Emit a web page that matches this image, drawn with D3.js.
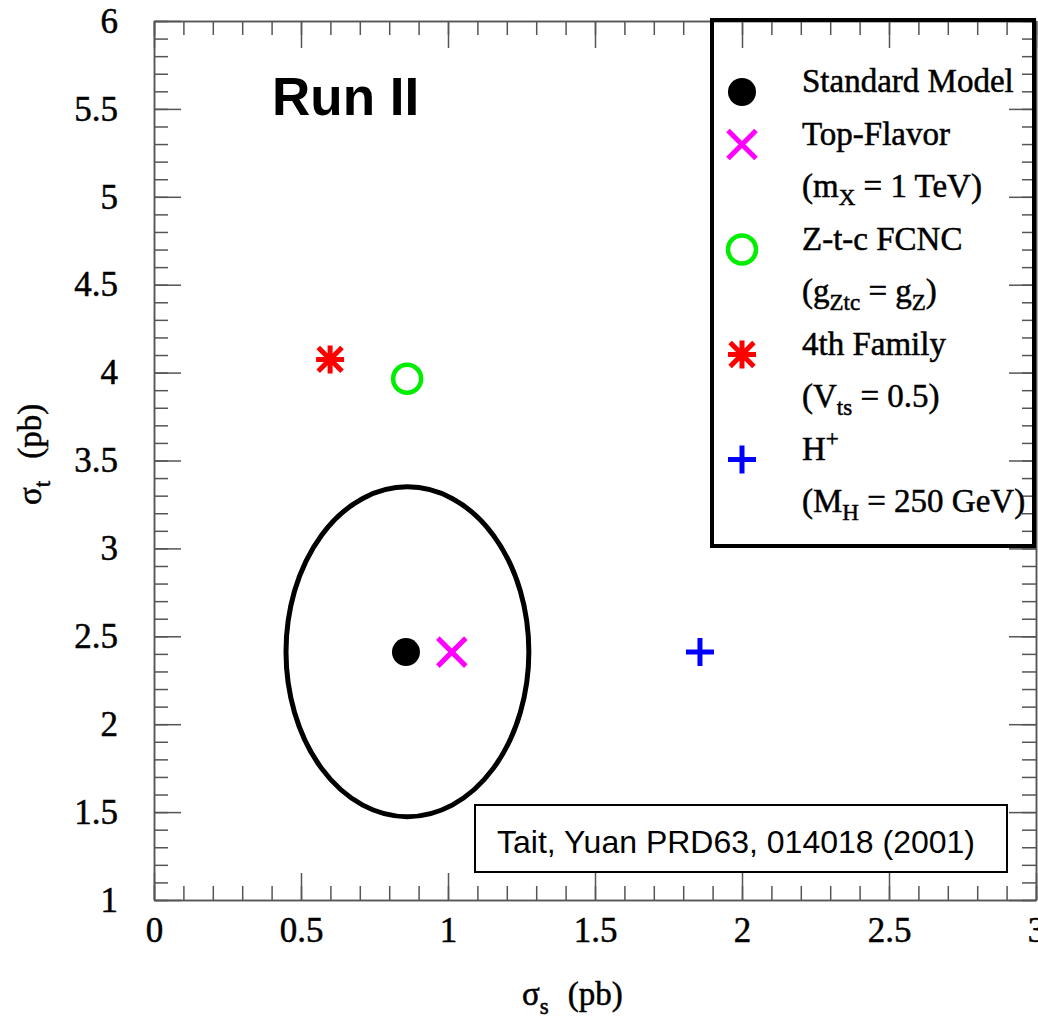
<!DOCTYPE html>
<html>
<head>
<meta charset="utf-8">
<script src="https://cdn.jsdelivr.net/npm/d3@7"></script>
<style>
  body { margin: 0; background: #fff; }
  text { font-family: "Liberation Serif", "Times New Roman", serif; }
</style>
</head>
<body>
<svg id="chart" width="1038" height="1018"></svg>
<script>
// model points (sigma_s, sigma_t) in pb
const models = ["Standard Model", "Top-Flavor", "Z-t-c FCNC", "4th Family", "H+"];
const sigmaS = [0.857, 1.013, 0.861, 0.599, 1.857];
const sigmaT = [2.41, 2.41, 3.965, 4.075, 2.41];
const markerTypes = ["dot", "cross", "ring", "star", "plus"];
const markerColors = ["#000000", "#ff00ff", "#00ee00", "#ff0000", "#0000ff"];

// SM 1-sigma contour: centre and half-widths
const contourCenter = [0.862, 2.412];
const contourRadius = [0.413, 0.938];

const xTicks = [0, 0.5, 1, 1.5, 2, 2.5, 3];
const yTicks = [1, 1.5, 2, 2.5, 3, 3.5, 4, 4.5, 5, 5.5, 6];

// legend lines: [text, "sub"/"sup"/""] parts, and which marker goes with the line
const legendLines = [
  { marker: 0, parts: [["Standard Model", ""]] },
  { marker: 1, parts: [["Top-Flavor", ""]] },
  { marker: -1, parts: [["(m", ""], ["X", "sub"], [" = 1 TeV)", ""]] },
  { marker: 2, parts: [["Z-t-c FCNC", ""]] },
  { marker: -1, parts: [["(g", ""], ["Ztc", "sub"], [" = g", ""], ["Z", "sub"], [")", ""]] },
  { marker: 3, parts: [["4th Family", ""]] },
  { marker: -1, parts: [["(V", ""], ["ts", "sub"], [" = 0.5)", ""]] },
  { marker: 4, parts: [["H", ""], ["+", "sup"]] },
  { marker: -1, parts: [["(M", ""], ["H", "sub"], [" = 250 GeV)", ""]] }
];

const svg = d3.select("#chart");
const margin = { top: 21, right: 2, bottom: 118, left: 154 };
const width = +svg.attr("width") - margin.left - margin.right;
const height = +svg.attr("height") - margin.top - margin.bottom;
const g = svg.append("g").attr("transform", `translate(${margin.left},${margin.top})`);

const x = d3.scaleLinear().domain([0, 3]).range([0, width]);
const y = d3.scaleLinear().domain([1, 6]).range([height, 0]);

const axisColor = "#555";
// slight outline so the serif text reads as heavy as in the scanned original
const textStroke = 0.5;

function styleAxis(sel) {
  sel.attr("font-family", "Liberation Serif").attr("font-size", 35);
  sel.select(".domain").attr("stroke", axisColor).attr("stroke-width", 1.5);
  sel.selectAll(".tick line").attr("stroke", axisColor).attr("stroke-width", 1.5);
  sel.selectAll(".tick text").attr("fill", "#000").attr("stroke", "#000").attr("stroke-width", textStroke);
}

// minor ticks first, then major ticks with labels
const minorX = x.ticks(30), minorY = y.ticks(50);

g.append("g").attr("transform", `translate(0,${height})`)
  .call(d3.axisBottom(x).tickValues(minorX).tickSize(-14).tickSizeOuter(0).tickFormat(""))
  .call(styleAxis);
g.append("g").attr("transform", `translate(0,${height})`)
  .call(d3.axisBottom(x).tickValues(xTicks).tickSize(-27).tickSizeOuter(0).tickPadding(17).tickFormat(d3.format("")))
  .call(styleAxis);

g.append("g")
  .call(d3.axisTop(x).tickValues(minorX).tickSize(-14).tickSizeOuter(0).tickFormat(""))
  .call(styleAxis);
g.append("g")
  .call(d3.axisTop(x).tickValues(xTicks).tickSize(-27).tickSizeOuter(0).tickFormat(""))
  .call(styleAxis);

g.append("g")
  .call(d3.axisLeft(y).tickValues(minorY).tickSize(-14).tickSizeOuter(0).tickFormat(""))
  .call(styleAxis);
g.append("g")
  .call(d3.axisLeft(y).tickValues(yTicks).tickSize(-27).tickSizeOuter(0).tickPadding(36).tickFormat(d3.format("")))
  .call(styleAxis);

g.append("g").attr("transform", `translate(${width},0)`)
  .call(d3.axisRight(y).tickValues(minorY).tickSize(-14).tickSizeOuter(0).tickFormat(""))
  .call(styleAxis);
g.append("g").attr("transform", `translate(${width},0)`)
  .call(d3.axisRight(y).tickValues(yTicks).tickSize(-27).tickSizeOuter(0).tickFormat(""))
  .call(styleAxis);

// axis titles
const xTitle = svg.append("text").attr("x", 522).attr("y", 1005)
  .style("font-size", "33px").attr("stroke", "#000").attr("stroke-width", textStroke);
xTitle.append("tspan").text("σ");
xTitle.append("tspan").text("s").style("font-size", "23px").attr("dy", 9);
xTitle.append("tspan").text("(pb)").attr("dx", 19).attr("dy", -9);

const yTitle = svg.append("text")
  .attr("transform", "translate(41,505) rotate(-90)")
  .style("font-size", "33px").attr("stroke", "#000").attr("stroke-width", textStroke);
yTitle.append("tspan").text("σ");
yTitle.append("tspan").text("t").style("font-size", "23px").attr("dy", 9);
yTitle.append("tspan").text("(pb)").attr("dx", 22).attr("dy", -9);

// Run II
svg.append("text")
  .attr("x", 272).attr("y", 115)
  .style("font-family", "'Liberation Sans', Arial, sans-serif")
  .style("font-weight", "bold")
  .style("font-size", "53px")
  .text("Run II");

// SM contour
g.append("ellipse")
  .attr("cx", x(contourCenter[0]))
  .attr("cy", y(contourCenter[1]))
  .attr("rx", x(contourCenter[0] + contourRadius[0]) - x(contourCenter[0]))
  .attr("ry", y(contourCenter[1]) - y(contourCenter[1] + contourRadius[1]))
  .attr("fill", "none")
  .attr("stroke", "#000")
  .attr("stroke-width", 5);

// marker shapes
function markerPath(type) {
  const r = 14;
  const p = d3.path();
  if (type === "cross") {
    p.moveTo(-r, -r); p.lineTo(r, r); p.moveTo(-r, r); p.lineTo(r, -r);
  } else if (type === "plus") {
    p.moveTo(-r, 0); p.lineTo(r, 0); p.moveTo(0, -r); p.lineTo(0, r);
  } else if (type === "star") {
    p.moveTo(-r, 0); p.lineTo(r, 0); p.moveTo(0, -r); p.lineTo(0, r);
    const d = r * 0.85;
    p.moveTo(-d, -d); p.lineTo(d, d); p.moveTo(-d, d); p.lineTo(d, -d);
  } else {
    p.arc(0, 0, 14, 0, 2 * Math.PI);
  }
  return p.toString();
}

function drawMarker(sel, i) {
  const type = markerTypes[i];
  sel.append("path")
    .attr("d", markerPath(type))
    .attr("fill", type === "dot" ? markerColors[i] : "none")
    .attr("stroke", type === "dot" ? "none" : markerColors[i])
    .attr("stroke-width", type === "ring" ? 4.5 : 5);
}

models.forEach((m, i) => {
  const mk = g.append("g").attr("transform", `translate(${x(sigmaS[i])},${y(sigmaT[i])})`);
  drawMarker(mk, i);
});

// legend
const legend = svg.append("g");
legend.append("rect")
  .attr("x", 712).attr("y", 20).attr("width", 322).attr("height", 526)
  .attr("fill", "none").attr("stroke", "#000").attr("stroke-width", 4);

const rowY = d3.scaleLinear().domain([0, legendLines.length - 1]).range([92, 512]);
legendLines.forEach((line, k) => {
  const yy = rowY(k);
  if (line.marker >= 0) {
    const mk = legend.append("g").attr("transform", `translate(742,${yy})`);
    drawMarker(mk, line.marker);
  }
  const t = legend.append("text").attr("x", 802).attr("y", yy)
    .style("font-size", "33px").attr("stroke", "#000").attr("stroke-width", textStroke);
  let shift = 0;
  line.parts.forEach(([txt, kind]) => {
    const target = kind === "sub" ? 8 : kind === "sup" ? -14 : 0;
    t.append("tspan")
      .text(txt)
      .attr("dy", target - shift)
      .style("font-size", kind ? "23px" : "33px")
      .style("white-space", "pre");
    shift = target;
  });
});

// citation box
svg.append("rect")
  .attr("x", 475).attr("y", 805).attr("width", 532).attr("height", 67)
  .attr("fill", "#fff").attr("stroke", "#000").attr("stroke-width", 2);
svg.append("text")
  .attr("x", 736).attr("y", 853)
  .attr("text-anchor", "middle")
  .style("font-family", "'Liberation Sans', Arial, sans-serif")
  .style("font-size", "32px")
  .text("Tait, Yuan PRD63, 014018 (2001)");
</script>
</body>
</html>
